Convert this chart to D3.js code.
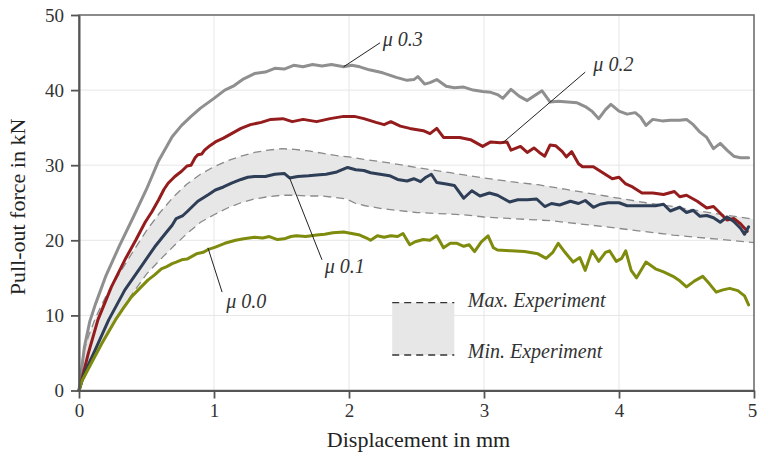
<!DOCTYPE html>
<html>
<head>
<meta charset="utf-8">
<script src="https://cdn.jsdelivr.net/npm/d3@7"></script>
<style>
    body { margin: 0; background: #fff; }
    svg { display: block; }
    svg text { font-family: "Liberation Serif", "DejaVu Serif", serif !important; }
</style>
</head>
<body>
<div id="chart"></div>
<script>
'use strict';

// simulation curves, [displacement mm, force kN]
var mu03 = [[0,0],[0.04,5.8],[0.08,9.2],[0.12,11.4],[0.2,15.3],[0.3,19.3],[0.4,23.0],[0.5,26.8],[0.59,30.6],[0.69,33.8],[0.76,35.3],[0.83,36.5],[0.9,37.6],[1.0,38.9],[1.08,40.0],[1.15,40.6],[1.22,41.5],[1.3,42.2],[1.38,42.4],[1.45,42.9],[1.52,42.8],[1.59,43.3],[1.66,43.1],[1.73,43.4],[1.8,43.2],[1.87,43.4],[1.93,43.2],[1.96,43.1],[2.02,43.3],[2.08,43.1],[2.15,42.7],[2.25,42.3],[2.35,41.7],[2.43,41.3],[2.48,41.4],[2.51,41.8],[2.56,40.8],[2.6,41.0],[2.65,41.4],[2.72,40.5],[2.78,40.3],[2.85,40.4],[2.92,40.0],[2.99,39.8],[3.05,39.7],[3.1,39.4],[3.14,38.9],[3.2,40.1],[3.26,39.2],[3.32,38.6],[3.37,39.2],[3.43,39.9],[3.49,38.4],[3.55,38.5],[3.62,38.4],[3.69,38.3],[3.75,37.8],[3.8,37.2],[3.85,36.2],[3.9,37.4],[3.94,38.1],[4.0,37.2],[4.06,36.8],[4.12,37.0],[4.16,36.4],[4.2,35.3],[4.25,36.1],[4.32,35.9],[4.38,36.0],[4.45,36.0],[4.5,36.1],[4.55,35.4],[4.6,34.4],[4.65,33.7],[4.7,32.2],[4.75,32.9],[4.8,32.0],[4.85,31.2],[4.9,31.0],[4.96,31.0]];

var mu02 = [[0,0],[0.07,5.0],[0.14,9.4],[0.24,13.8],[0.34,17.4],[0.42,20.0],[0.49,22.4],[0.54,23.8],[0.59,25.4],[0.63,26.8],[0.66,27.6],[0.71,28.5],[0.76,29.2],[0.8,29.9],[0.83,30.0],[0.86,31.0],[0.88,31.4],[0.91,31.5],[0.93,32.0],[0.97,32.6],[1.01,33.1],[1.07,33.6],[1.13,34.2],[1.2,34.9],[1.27,35.4],[1.35,35.7],[1.42,36.1],[1.51,36.2],[1.58,35.8],[1.66,36.1],[1.76,35.8],[1.86,36.2],[1.96,36.5],[2.04,36.5],[2.11,36.2],[2.2,35.7],[2.26,35.4],[2.31,35.8],[2.38,35.2],[2.45,34.9],[2.55,34.6],[2.6,34.2],[2.65,34.9],[2.7,33.7],[2.75,33.7],[2.82,33.7],[2.9,33.4],[2.99,32.5],[3.05,33.1],[3.12,33.0],[3.17,33.1],[3.2,32.0],[3.27,32.5],[3.32,31.7],[3.37,32.3],[3.41,31.7],[3.45,31.2],[3.49,32.7],[3.53,32.6],[3.58,31.8],[3.61,31.1],[3.65,31.8],[3.7,30.2],[3.73,29.8],[3.81,29.8],[3.88,29.0],[3.95,28.2],[4.0,28.4],[4.05,27.5],[4.1,27.1],[4.17,26.3],[4.25,26.3],[4.33,26.1],[4.41,26.5],[4.45,25.8],[4.5,26.0],[4.58,25.2],[4.65,24.3],[4.7,24.5],[4.75,23.6],[4.8,22.7],[4.85,22.9],[4.9,22.2],[4.95,21.2]];

var mu01 = [[0,0],[0.04,2.3],[0.12,5.4],[0.22,9.4],[0.34,13.4],[0.46,16.5],[0.56,19.1],[0.64,20.9],[0.69,22.0],[0.72,22.9],[0.77,23.3],[0.8,23.8],[0.88,25.2],[0.96,26.1],[1.01,26.7],[1.07,27.1],[1.13,27.6],[1.2,28.1],[1.25,28.4],[1.3,28.5],[1.38,28.5],[1.45,28.8],[1.52,28.9],[1.56,28.3],[1.62,28.5],[1.7,28.6],[1.76,28.7],[1.83,28.8],[1.91,29.1],[1.99,29.7],[2.05,29.4],[2.11,29.3],[2.16,29.0],[2.23,28.8],[2.3,28.6],[2.36,28.1],[2.43,27.9],[2.48,28.2],[2.53,27.8],[2.57,28.4],[2.61,28.8],[2.65,27.7],[2.72,27.5],[2.78,27.3],[2.85,25.6],[2.91,26.6],[2.97,25.9],[3.04,26.3],[3.1,26.0],[3.15,25.5],[3.19,25.1],[3.25,25.4],[3.32,25.4],[3.39,25.5],[3.45,24.5],[3.5,24.9],[3.56,24.7],[3.64,25.2],[3.7,24.9],[3.75,25.3],[3.81,24.4],[3.86,24.8],[3.92,25.0],[4.0,25.0],[4.06,24.6],[4.13,24.6],[4.2,24.6],[4.27,24.6],[4.33,24.8],[4.38,23.9],[4.45,24.4],[4.5,23.7],[4.55,24.0],[4.6,23.2],[4.65,23.3],[4.7,23.0],[4.75,22.4],[4.8,23.1],[4.85,22.5],[4.9,21.6],[4.93,20.8],[4.96,21.8]];

var mu00 = [[0,0],[0.02,1.2],[0.09,3.6],[0.17,6.3],[0.27,9.4],[0.33,11.0],[0.39,12.5],[0.45,13.6],[0.51,14.7],[0.56,15.4],[0.61,16.2],[0.65,16.5],[0.69,16.9],[0.72,17.1],[0.76,17.4],[0.8,17.5],[0.83,17.8],[0.87,18.2],[0.92,18.4],[0.96,18.8],[1.01,19.1],[1.08,19.6],[1.16,20.0],[1.22,20.2],[1.3,20.4],[1.36,20.3],[1.41,20.5],[1.47,20.1],[1.52,20.2],[1.57,20.5],[1.61,20.6],[1.68,20.5],[1.76,20.7],[1.82,20.8],[1.88,21.0],[1.96,21.1],[2.02,20.9],[2.08,20.7],[2.13,20.3],[2.16,20.0],[2.21,20.6],[2.26,20.4],[2.31,20.6],[2.36,20.5],[2.4,20.9],[2.45,19.4],[2.49,19.8],[2.55,20.1],[2.6,20.0],[2.65,20.6],[2.7,19.0],[2.75,19.6],[2.8,19.6],[2.85,19.2],[2.89,19.4],[2.93,18.5],[2.98,19.8],[3.03,20.6],[3.07,19.0],[3.1,18.7],[3.2,18.6],[3.3,18.5],[3.4,18.2],[3.46,17.6],[3.51,18.4],[3.55,19.6],[3.6,18.4],[3.66,17.1],[3.71,17.7],[3.75,16.0],[3.8,18.6],[3.85,17.2],[3.9,18.4],[3.93,18.6],[3.98,17.2],[4.02,17.6],[4.05,18.6],[4.09,16.0],[4.13,15.0],[4.2,17.1],[4.27,16.2],[4.33,15.8],[4.4,15.2],[4.45,14.6],[4.5,13.8],[4.56,14.6],[4.62,15.2],[4.67,14.2],[4.72,13.1],[4.77,13.4],[4.82,13.6],[4.88,13.3],[4.93,12.6],[4.96,11.4]];

// experiment envelope
var expMax = [[0,0],[0.03,4.8],[0.07,7.2],[0.12,9.6],[0.2,12.6],[0.3,15.6],[0.4,18.5],[0.5,21.3],[0.6,23.7],[0.7,25.8],[0.8,27.5],[0.9,28.8],[1.0,29.8],[1.1,30.6],[1.2,31.2],[1.3,31.7],[1.4,32.0],[1.5,32.2],[1.6,32.1],[1.7,31.9],[1.8,31.6],[1.9,31.3],[2.0,31.1],[2.1,30.8],[2.3,30.3],[2.5,29.7],[2.75,29.0],[3.0,28.3],[3.2,27.8],[3.4,27.4],[3.6,26.8],[3.9,25.9],[4.2,25.0],[4.4,24.5],[4.7,23.6],[5.0,22.8]];
var expMin = [[0,0],[0.1,4.2],[0.2,7.3],[0.3,10.3],[0.4,13.0],[0.5,15.5],[0.6,17.4],[0.7,19.2],[0.8,20.9],[0.9,22.4],[1.0,23.4],[1.1,24.3],[1.2,25.0],[1.3,25.5],[1.4,25.8],[1.5,26.0],[1.6,26.0],[1.7,25.9],[1.8,25.9],[1.9,25.7],[1.98,25.5],[2.05,24.9],[2.12,24.6],[2.25,24.2],[2.5,23.7],[2.85,23.4],[3.0,23.1],[3.5,22.6],[3.9,21.8],[4.4,20.7],[5.0,19.7]];

var xTicks = [0, 1, 2, 3, 4, 5];
var yTicks = [0, 10, 20, 30, 40, 50];

(function() {
    var width = 758,
        height = 455,
        pLeft = 79, pRight = 754, pTop = 15, pBottom = 390.5;

    var x = d3.scaleLinear().domain([0, 5]).range([pLeft, pRight]);
    var y = d3.scaleLinear().domain([0, 50]).range([pBottom, pTop]);

    var svg = d3.select('#chart')
        .append('svg')
        .attr('width', width)
        .attr('height', height);

    //grid
    svg.append('g').selectAll('line').data(xTicks.slice(1, -1)).enter()
        .append('line')
        .attr('x1', function(d) { return x(d); }).attr('x2', function(d) { return x(d); })
        .attr('y1', pTop).attr('y2', pBottom)
        .attr('stroke', '#e6e6e6').attr('stroke-width', 1);
    svg.append('g').selectAll('line').data(yTicks.slice(1, -1)).enter()
        .append('line')
        .attr('y1', function(d) { return y(d); }).attr('y2', function(d) { return y(d); })
        .attr('x1', pLeft).attr('x2', pRight)
        .attr('stroke', '#e6e6e6').attr('stroke-width', 1);

    var line = d3.line()
        .x(function(d) { return x(d[0]); })
        .y(function(d) { return y(d[1]); });

    //envelope fill + dashed bounds
    svg.append('path')
        .attr('d', line(expMax.concat(expMin.slice().reverse())) + 'Z')
        .attr('fill', '#e7e7e7');
    [expMax, expMin].forEach(function(s) {
        svg.append('path')
            .attr('d', line(s))
            .attr('fill', 'none')
            .attr('stroke', '#8a8a8a')
            .attr('stroke-width', 1.3)
            .attr('stroke-dasharray', '8,5');
    });

    //curves
    var series = [
        {data: mu03, color: '#8f8f8f'},
        {data: mu02, color: '#941c1c'},
        {data: mu01, color: '#2f3e57'},
        {data: mu00, color: '#7e8b0c'}
    ];
    series.forEach(function(s) {
        svg.append('path')
            .attr('d', line(s.data))
            .attr('fill', 'none')
            .attr('stroke', s.color)
            .attr('stroke-width', 3)
            .attr('stroke-linejoin', 'round')
            .attr('stroke-linecap', 'round');
    });

    //curve labels with leader lines, positions in data units
    var labels = [
        {text: 'μ 0.3', from: [1.96, 43.1], to: [2.23, 46.3], at: [2.25, 45.9]},
        {text: 'μ 0.2', from: [3.14, 33.0], to: [3.75, 42.4], at: [3.81, 42.6]},
        {text: 'μ 0.1', from: [1.56, 28.3], to: [1.80, 17.4], at: [1.82, 15.7]},
        {text: 'μ 0.0', from: [0.955, 19.0], to: [1.06, 13.1], at: [1.09, 11.0]}
    ];
    labels.forEach(function(l) {
        svg.append('line')
            .attr('x1', x(l.from[0])).attr('y1', y(l.from[1]))
            .attr('x2', x(l.to[0])).attr('y2', y(l.to[1]))
            .attr('stroke', '#222').attr('stroke-width', 1);
        svg.append('text')
            .attr('x', x(l.at[0])).attr('y', y(l.at[1]))
            .style('font-size', '20px').style('font-style', 'italic')
            .attr('fill', '#333')
            .text(l.text);
    });

    //legend
    var lg = svg.append('g');
    lg.append('rect')
        .attr('x', x(2.32)).attr('y', y(11.7))
        .attr('width', x(2.78) - x(2.32)).attr('height', y(4.73) - y(11.7))
        .attr('fill', '#e7e7e7');
    [[11.7, 'Max. Experiment', 11.1], [4.73, 'Min. Experiment', 4.33]].forEach(function(r) {
        lg.append('line')
            .attr('x1', x(2.32)).attr('x2', x(2.78))
            .attr('y1', y(r[0])).attr('y2', y(r[0]))
            .attr('stroke', '#333').attr('stroke-width', 1.4)
            .attr('stroke-dasharray', '7,5');
        lg.append('text')
            .attr('x', x(2.88)).attr('y', y(r[2]))
            .style('font-size', '20px').style('font-style', 'italic')
            .attr('fill', '#333')
            .text(r[1]);
    });

    //frame
    svg.append('rect')
        .attr('x', pLeft).attr('y', pTop)
        .attr('width', pRight - pLeft).attr('height', pBottom - pTop)
        .attr('fill', 'none').attr('stroke', '#666').attr('stroke-width', 1.5);

    //axes
    var xAxis = svg.append('g')
        .attr('transform', 'translate(0,' + pBottom + ')')
        .call(d3.axisBottom(x).tickValues(xTicks).tickFormat(d3.format('d'))
            .tickSize(8).tickSizeOuter(0).tickPadding(5));
    var yAxis = svg.append('g')
        .attr('transform', 'translate(' + pLeft + ',0)')
        .call(d3.axisLeft(y).tickValues(yTicks).tickFormat(d3.format('d'))
            .tickSize(8).tickSizeOuter(0).tickPadding(7));
    [xAxis, yAxis].forEach(function(a) {
        a.attr('font-family', null);
        a.select('.domain').attr('stroke', '#555').attr('stroke-width', 2);
        a.selectAll('.tick line').attr('stroke', '#555').attr('stroke-width', 1.8);
        a.selectAll('.tick text')
            .style('font-size', '19px')
            .attr('fill', '#333');
    });
    // last x label would run off the page edge
    xAxis.selectAll('.tick text').filter(function(d) { return d === 5; })
        .attr('dx', '-0.1em');

    //axis titles
    svg.append('text')
        .attr('x', (pLeft + pRight) / 2 + 2).attr('y', 447)
        .attr('text-anchor', 'middle')
        .style('font-size', '22px').attr('fill', '#222')
        .text('Displacement in mm');
    svg.append('text')
        .attr('transform', 'translate(25,207) rotate(-90)')
        .attr('text-anchor', 'middle')
        .style('font-size', '22px').attr('fill', '#222')
        .text('Pull-out force in kN');
})();
</script>
</body>
</html>
